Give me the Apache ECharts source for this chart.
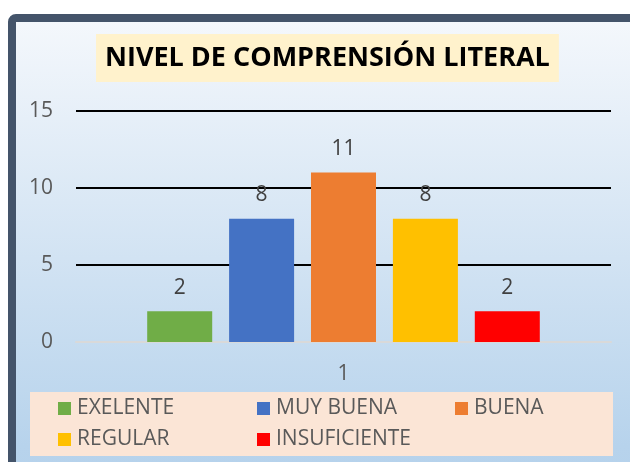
<!DOCTYPE html>
<html>
<head>
<meta charset="utf-8">
<script src="https://cdn.jsdelivr.net/npm/echarts@6/dist/echarts.min.js"></script>
<style>
  html, body { margin: 0; padding: 0; background: #fff; }
  #chart { width: 630px; height: 462px; }
</style>
</head>
<body>
<div id="chart"></div>
<script>
// datos del gráfico
const categories = ['1'];
const seriesNames = ['EXELENTE', 'MUY BUENA', 'BUENA', 'REGULAR', 'INSUFICIENTE'];
const seriesValues = [2, 8, 11, 8, 2];
const seriesColors = ['#70ad47', '#4472c4', '#ed7d31', '#ffc000', '#ff0000'];
const yTicks = { min: 0, max: 15, interval: 5 };

// posición de cada entrada de la leyenda (3 por fila)
const legendLeft = [58, 257, 455, 58, 257];
const legendTop = [398, 398, 398, 429, 429];

const chart = echarts.init(document.getElementById('chart'));

const series = seriesNames.map((name, i) => ({
  name,
  type: 'bar',
  data: [seriesValues[i]],
  barWidth: 65,
  barGap: '26%',
  itemStyle: { color: seriesColors[i] },
  label: {
    show: true,
    position: 'top',
    distance: 13,
    fontSize: 21,
    color: '#404040',
    fontFamily: 'Open Sans'
  }
}));

const legends = seriesNames.map((name, i) => ({
  data: [name],
  left: legendLeft[i],
  top: legendTop[i],
  padding: 0,
  itemWidth: 13,
  itemHeight: 13,
  itemGap: 0,
  icon: 'rect',
  textStyle: { fontSize: 21, color: '#595959', fontFamily: 'Open Sans', padding: [0, 0, 0, 1] }
}));

chart.setOption({
  backgroundColor: '#ffffff',
  animation: false,
  graphic: [
    {
      type: 'rect',
      z: -10,
      shape: { x: 12, y: 18, width: 680, height: 500, r: 4 },
      style: {
        stroke: '#44546a',
        lineWidth: 8,
        fill: new echarts.graphic.LinearGradient(0, 0, 0, 1, [
          { offset: 0, color: '#f5f8fc' },
          { offset: 0.85, color: '#b7d3ec' },
          { offset: 1, color: '#b3d0eb' }
        ])
      }
    },
    {
      type: 'rect',
      z: -5,
      shape: { x: 30, y: 392, width: 583, height: 64 },
      style: { fill: '#fbe5d6' }
    }
  ],
  title: {
    text: 'NIVEL DE COMPRENSIÓN LITERAL',
    left: 96,
    top: 34,
    padding: [6, 9],
    backgroundColor: '#fff2cc',
    textStyle: {
      fontSize: 27,
      fontWeight: 'bold',
      color: '#000',
      fontFamily: 'Open Sans',
      lineHeight: 36
    }
  },
  legend: legends,
  grid: { left: 76, right: 19, top: 111, bottom: 120 },
  xAxis: {
    type: 'category',
    data: categories,
    axisLine: { lineStyle: { color: '#d9d9d9', width: 2 } },
    axisTick: { show: false },
    axisLabel: { fontSize: 21, color: '#595959', margin: 22, fontFamily: 'Open Sans' }
  },
  yAxis: {
    type: 'value',
    min: yTicks.min,
    max: yTicks.max,
    interval: yTicks.interval,
    axisLine: { show: false },
    axisTick: { show: false },
    axisLabel: { fontSize: 21, color: '#595959', margin: 23, fontFamily: 'Open Sans' },
    splitLine: { lineStyle: { color: ['#d9d9d9', '#000', '#000', '#000'], width: 2 } }
  },
  series
});
</script>
</body>
</html>
